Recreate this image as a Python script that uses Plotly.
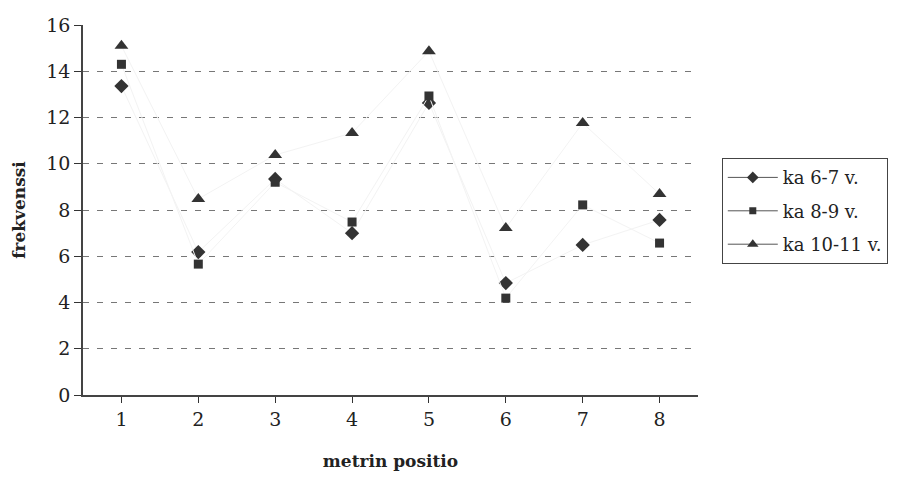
import plotly.graph_objects as go

# Metre positions and mean frequencies per age group
positions = [1, 2, 3, 4, 5, 6, 7, 8]
ka_6_7 = [13.36, 6.18, 9.34, 7.00, 12.63, 4.84, 6.49, 7.57]
ka_8_9 = [14.30, 5.66, 9.20, 7.48, 12.93, 4.19, 8.22, 6.57]
ka_10_11 = [15.10, 8.48, 10.38, 11.33, 14.87, 7.22, 11.76, 8.69]
series_names = ["ka 6-7 v.", "ka 8-9 v.", "ka 10-11 v."]
y_ticks = [0, 2, 4, 6, 8, 10, 12, 14, 16]

FONT = "DejaVu Serif"
MARK = "#333333"
series = [
    (series_names[0], ka_6_7, "diamond", 11),
    (series_names[1], ka_8_9, "square", 9),
    (series_names[2], ka_10_11, "triangle-up", 12),
]

fig = go.Figure()
for i, (name, vals, sym, size) in enumerate(series):
    # data: markers joined by a very faint line
    fig.add_trace(go.Scatter(
        x=positions, y=vals, mode="lines+markers", name=name,
        line=dict(color="#f3f3f3", width=1),
        marker=dict(symbol=sym, size=size, color=MARK),
        showlegend=False,
    ))
    # legend key with a visible grey line
    fig.add_trace(go.Scatter(
        x=[None], y=[None], mode="lines+markers", name=name,
        line=dict(color="#555555", width=1),
        marker=dict(symbol=sym, size=size - 2, color=MARK),
        legendgroup=f"g{i}", showlegend=True,
    ))

fig.update_layout(
    width=899, height=479,
    margin=dict(l=83, r=200, t=25, b=84),
    paper_bgcolor="white", plot_bgcolor="white",
    font=dict(family=FONT, size=17, color="#222222"),
    legend=dict(
        x=1.037, y=0.64, xanchor="left", yanchor="top",
        bordercolor="#444444", borderwidth=1,
        font=dict(family=FONT, size=18, color="#222222"),
        tracegroupgap=7, traceorder="grouped", itemwidth=50,
    ),
    xaxis=dict(
        range=[0.5, 8.5], tickvals=positions, ticktext=[str(p) for p in positions],
        tickson="boundaries", ticks="outside", ticklen=6, tickcolor="#333333",
        tickfont=dict(family=FONT, size=19),
        showline=True, linecolor="#444444", linewidth=1.5,
        showgrid=False, zeroline=False,
        title=dict(text="<b>metrin positio</b>", font=dict(family=FONT, size=17), standoff=27),
    ),
    yaxis=dict(
        range=[0, 16], tickvals=y_ticks, ticks="outside", ticklen=7, tickcolor="#333333",
        tickfont=dict(family=FONT, size=19),
        showline=True, linecolor="#444444", linewidth=1.5,
        showgrid=True, gridcolor="#777777", griddash="6px,8px", gridwidth=1,
        zeroline=False,
        title=dict(text="<b>frekvenssi</b>", font=dict(family=FONT, size=17), standoff=16),
    ),
)

fig.write_html("out.html")
